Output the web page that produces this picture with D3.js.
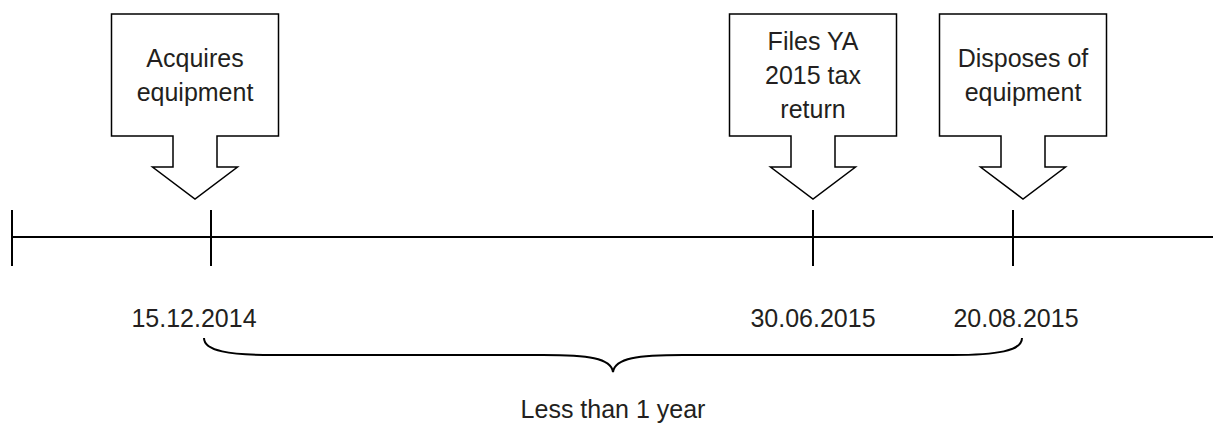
<!DOCTYPE html>
<html>
<head>
<meta charset="utf-8">
<script src="https://cdn.jsdelivr.net/npm/d3@7/dist/d3.min.js"></script>
<style>
  html, body { margin: 0; padding: 0; background: #fff; }
  svg { display: block; }
  text { font-family: "Liberation Sans", Arial, sans-serif; font-size: 25px; fill: #231f20; }
</style>
</head>
<body>
<div id="vis"></div>
<script>
const eventDates = ["15.12.2014", "30.06.2015", "20.08.2015"];
const eventLabels = [
    ["Acquires", "equipment"],
    ["Files YA", "2015 tax", "return"],
    ["Disposes of", "equipment"]
];
const spanLabel = "Less than 1 year";

const WIDTH = 1213;
const HEIGHT = 424;
const AXIS_Y = 237;

// hand placed nudges, the drawing is not exactly on the ticks
const CALLOUT_SHIFT = [-16, 0, 10];
const DATE_SHIFT = [-17, 0, 3];

const parseDate = d3.timeParse("%d.%m.%Y");
const dates = eventDates.map(parseDate);

const x = d3.scaleTime()
    .domain(dates)
    .range([211, 813, 1013]);

const svg = d3.select("#vis").append("svg")
    .attr("width", WIDTH)
    .attr("height", HEIGHT);

// timeline
svg.append("line")
    .attr("x1", 12).attr("x2", WIDTH)
    .attr("y1", AXIS_Y).attr("y2", AXIS_Y)
    .attr("stroke", "#000").attr("stroke-width", 2);

const tickXs = [12].concat(dates.map(d => x(d)));
svg.selectAll(".tick")
    .data(tickXs)
    .enter()
    .append("line")
    .attr("class", "tick")
    .attr("x1", d => d).attr("x2", d => d)
    .attr("y1", 210).attr("y2", 266)
    .attr("stroke", "#000").attr("stroke-width", 2);

// callout boxes with arrow
const BOX_W = 167, BOX_TOP = 14, BOX_BOTTOM = 136;
const SHAFT_W = 44, SHAFT_BOTTOM = 167, HEAD_W = 85, TIP_Y = 199;

function calloutPath(cx) {
    const l = cx - BOX_W / 2, r = cx + BOX_W / 2;
    const p = d3.path();
    p.moveTo(l, BOX_TOP);
    p.lineTo(r, BOX_TOP);
    p.lineTo(r, BOX_BOTTOM);
    p.lineTo(cx + SHAFT_W / 2, BOX_BOTTOM);
    p.lineTo(cx + SHAFT_W / 2, SHAFT_BOTTOM);
    p.lineTo(cx + HEAD_W / 2, SHAFT_BOTTOM);
    p.lineTo(cx, TIP_Y);
    p.lineTo(cx - HEAD_W / 2, SHAFT_BOTTOM);
    p.lineTo(cx - SHAFT_W / 2, SHAFT_BOTTOM);
    p.lineTo(cx - SHAFT_W / 2, BOX_BOTTOM);
    p.lineTo(l, BOX_BOTTOM);
    p.closePath();
    return p.toString();
}

const callouts = svg.selectAll(".callout")
    .data(dates)
    .enter()
    .append("g")
    .attr("class", "callout");

callouts.append("path")
    .attr("d", (d, i) => calloutPath(x(d) + CALLOUT_SHIFT[i]))
    .attr("fill", "#fff")
    .attr("stroke", "#000")
    .attr("stroke-width", 1.5);

callouts.each(function (d, i) {
    const lines = eventLabels[i];
    const cx = x(d) + CALLOUT_SHIFT[i];
    d3.select(this).selectAll("text")
        .data(lines)
        .enter()
        .append("text")
        .attr("x", cx)
        .attr("y", (t, j) => 84 - (lines.length - 1) * 17 + j * 34)
        .attr("text-anchor", "middle")
        .text(t => t);
});

// date labels
svg.selectAll(".date")
    .data(dates)
    .enter()
    .append("text")
    .attr("class", "date")
    .attr("x", (d, i) => x(d) + DATE_SHIFT[i])
    .attr("y", 327)
    .attr("text-anchor", "middle")
    .text((d, i) => eventDates[i]);

// brace under first to last date
const bx0 = x(dates[0]) - 7;
const bx1 = x(dates[dates.length - 1]) + 9;
const bm = (bx0 + bx1) / 2;
const bTop = 338, bMid = 355, bTip = 372;
const brace = d3.path();
brace.moveTo(bx0, bTop);
brace.bezierCurveTo(bx0, bMid - 4, bx0 + 25, bMid, bx0 + 70, bMid);
brace.lineTo(bm - 70, bMid);
brace.bezierCurveTo(bm - 25, bMid, bm - 2, bMid + 3, bm, bTip);
brace.bezierCurveTo(bm + 2, bMid + 3, bm + 25, bMid, bm + 70, bMid);
brace.lineTo(bx1 - 70, bMid);
brace.bezierCurveTo(bx1 - 25, bMid, bx1, bMid - 4, bx1, bTop);

svg.append("path")
    .attr("d", brace.toString())
    .attr("fill", "none")
    .attr("stroke", "#000")
    .attr("stroke-width", 2);

svg.append("text")
    .attr("x", bm)
    .attr("y", 418)
    .attr("text-anchor", "middle")
    .text(spanLabel);
</script>
</body>
</html>
